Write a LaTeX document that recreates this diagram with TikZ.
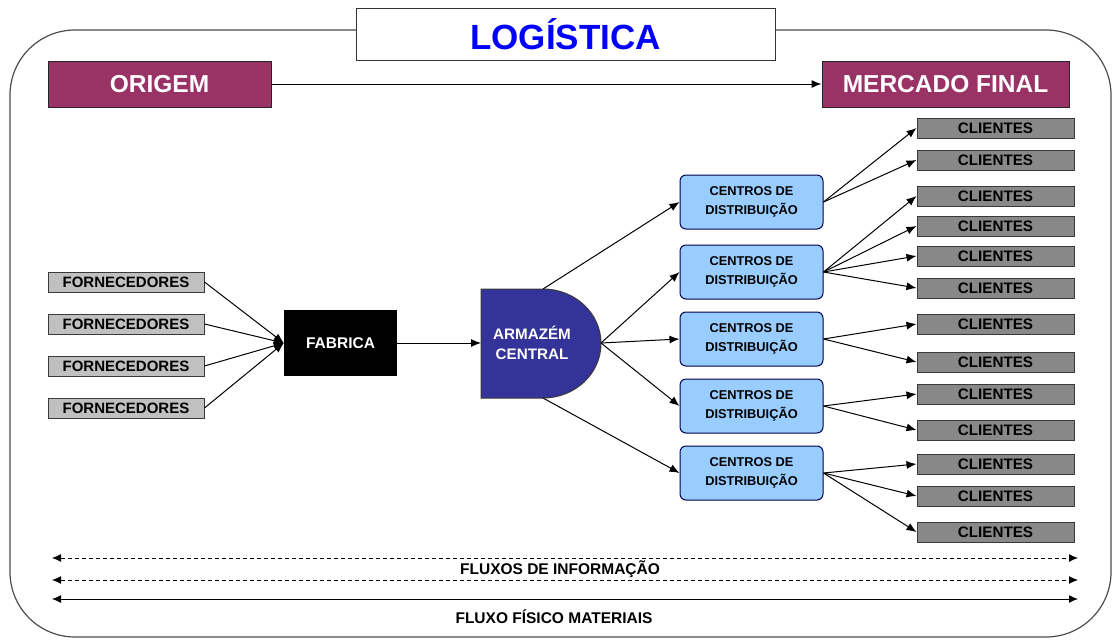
\documentclass[tikz,border=0pt]{standalone}
\usepackage{fontspec}
\setmainfont{Liberation Sans}
\usetikzlibrary{arrows.meta, positioning}

\definecolor{vinho}{HTML}{993366}
\definecolor{azularm}{HTML}{333399}
\definecolor{azulcd}{HTML}{99CCFF}
\definecolor{cinzaforn}{HTML}{C0C0C0}
\definecolor{cinzacli}{HTML}{888888}
\definecolor{borda}{HTML}{3A3A3A}

\begin{document}
\begin{tikzpicture}[
			x=1pt, y=-1pt,
			every node/.style={align=center, inner sep=0pt},
			moldura/.style={draw=black!70, line width=1.2pt, rounded corners=65pt},
			titulo/.style={draw=black!80, fill=white, line width=1pt, minimum width=419pt, minimum height=52pt, text=blue, font=\fontsize{35}{40}\selectfont\bfseries},
			extremo/.style={draw=black!85, fill=vinho, line width=1pt, text=white, minimum height=46pt, font=\fontsize{24.5}{28}\selectfont\bfseries},
			forn/.style={draw=borda, fill=cinzaforn, line width=1pt, minimum width=156pt, minimum height=20pt, font=\fontsize{15}{17}\selectfont\bfseries},
			fab/.style={fill=black, minimum width=113pt, minimum height=66pt, text=white, font=\fontsize{15.5}{18}\selectfont\bfseries},
			arm/.style={text=white, font=\fontsize{15.2}{19.5}\selectfont\bfseries},
			cd/.style={draw=black!70!blue, fill=azulcd, line width=1pt, rounded corners=6pt, minimum width=143pt, minimum height=54pt, font=\fontsize{12.8}{19}\selectfont\bfseries},
			cli/.style={draw=borda, fill=cinzacli, line width=1pt, minimum width=157pt, minimum height=20pt, font=\fontsize{15.2}{17}\selectfont\bfseries},
			rotulo/.style={font=\fontsize{15.5}{18}\selectfont\bfseries},
			to/.style={-{Latex[length=10pt,width=8pt]}, line width=1pt},
			fluxo/.style={{Latex[length=9pt,width=8pt]}-{Latex[length=9pt,width=8pt]}, line width=1pt}
			]
			\useasboundingbox (0,0) rectangle (1113,640);
			
			% moldura e titulo
			\draw[moldura] (10,30) rectangle (1111,637);
			\node[titulo] (logistica) at (565.5,34) {LOGÍSTICA};
			
			\node[extremo, minimum width=223pt] (origem) at (159.5,84) {ORIGEM};
			\node[extremo, minimum width=247pt] (mercado) at (945.5,84) {MERCADO FINAL};
			\draw[to] (origem.east) -- (mercado.west);
			
			% fornecedores -> fabrica
			\node[fab] (fabrica) at (340.5,343) {FABRICA};
			\foreach \y [count=\i] in {282,324,366,408} {
				\node[forn] (forn\i) at (126,\y) {FORNECEDORES};
				\draw[to] (forn\i.east) -- (fabrica.west);
			}
			
			% armazem central
			\fill[azularm, draw=borda, line width=1pt] (481,289) -- (543,289)
				arc[start angle=90, end angle=-90, x radius=58pt, y radius=54.5pt]
				-- (481,398) -- cycle;
			\node[arm] (armazem) at (532,343) {ARMAZÉM\\CENTRAL};
			\coordinate (armoeste) at (481,343);
			\coordinate (armtopo) at (543,289);
			\coordinate (armleste) at (601,343);
			\coordinate (armbase) at (543,398);
			\draw[to] (fabrica.east) -- (armoeste);
			
			% centros de distribuicao
			\foreach \y [count=\i] in {202,272,339,406,473}
				\node[cd] (cd\i) at (751.5,\y) {CENTROS DE\\DISTRIBUIÇÃO};
			\draw[to] (armtopo) -- (cd1.west);
			\foreach \i in {2,3,4}
				\draw[to] (armleste) -- (cd\i.west);
			\draw[to] (armbase) -- (cd5.west);
			
			% clientes
			\foreach \y/\p [count=\i] in {128/1,160/1,196/2,226/2,256/2,288/2,324/3,362/3,394/4,430/4,464/5,496/5,532/5} {
				\node[cli] (cli\i) at (995.5,\y) {CLIENTES};
				\draw[to] (cd\p.east) -- (cli\i.west);
			}
			
			% fluxos
			\coordinate (infoA1) at (52,558);   \coordinate (infoB1) at (1078,558);
			\coordinate (infoA2) at (52,580);   \coordinate (infoB2) at (1078,580);
			\coordinate (fisA) at (52,599);     \coordinate (fisB) at (1078,599);
			\draw[fluxo, dash pattern=on 4pt off 3pt] (infoA1) -- (infoB1);
			\draw[fluxo, dash pattern=on 4pt off 3pt] (infoA2) -- (infoB2);
			\draw[fluxo] (fisA) -- (fisB);
			\node[rotulo] (txtinfo) at (560,569) {FLUXOS DE INFORMAÇÃO};
			\node[rotulo] (txtfis) at (554,617) {FLUXO FÍSICO MATERIAIS};
			
			\end{tikzpicture}
\end{document}
